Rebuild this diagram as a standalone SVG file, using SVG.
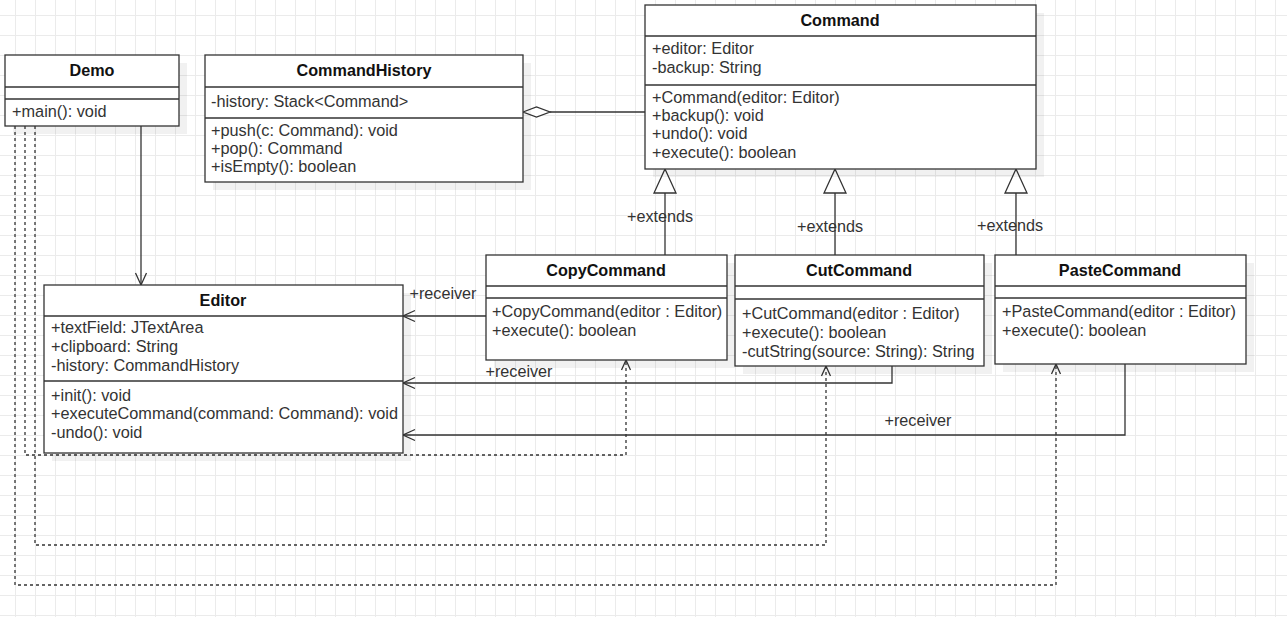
<svg xmlns="http://www.w3.org/2000/svg" width="1287" height="617" viewBox="0 0 1287 617">
<defs>
<pattern id="grid" x="15" y="15" width="20" height="20" patternUnits="userSpaceOnUse">
<path d="M0.5 0 V20 M0 0.5 H20" fill="none" stroke="#ebebeb" stroke-width="1"/>
</pattern>
<style>
.box{fill:#ffffff;stroke:#333333;stroke-width:1.3}
.shadow{fill:#000000;fill-opacity:0.055}
.div{stroke:#333333;stroke-width:1.3}
.title{font-family:"Liberation Sans",Arial,sans-serif;font-size:16.2px;font-weight:bold;fill:#111111;text-anchor:middle}
.mem{font-family:"Liberation Sans",Arial,sans-serif;font-size:16.3px;fill:#333333}
.lbl{font-family:"Liberation Sans",Arial,sans-serif;font-size:16.2px;fill:#333333;text-anchor:middle}
.edge{fill:none;stroke:#333333;stroke-width:1.3}
.dash{fill:none;stroke:#333333;stroke-width:1.3;stroke-dasharray:3 3}
.head{fill:none;stroke:#333333;stroke-width:1.3}
.tri{fill:#ffffff;stroke:#333333;stroke-width:1.3}
</style>
</defs>
<rect width="1287" height="617" fill="#ffffff"/>
<rect width="1287" height="617" fill="url(#grid)"/>

<g id="connectors">
<path class="edge" d="M550 112 H645"/>
<path class="tri" d="M523 112 L536.5 107 L550 112 L536.5 117 Z"/>
<path class="edge" d="M665 255 V193"/>
<path class="tri" d="M665 169 L654 193 L676 193 Z"/>
<path class="edge" d="M835 255 V193"/>
<path class="tri" d="M835 169 L824 193 L846 193 Z"/>
<path class="edge" d="M1016 255 V193"/>
<path class="tri" d="M1016 169 L1005 193 L1027 193 Z"/>
<path class="edge" d="M141 126 V285"/>
<path class="head" d="M135.5 273 L141 285 L146.5 273"/>
<path class="edge" d="M486 316 H403"/>
<path class="head" d="M415 310.5 L403 316 L415 321.5"/>
<path class="edge" d="M892 366 V383 H403"/>
<path class="head" d="M415 377.5 L403 383 L415 388.5"/>
<path class="edge" d="M1125 364 V435 H403"/>
<path class="head" d="M415 429.5 L403 435 L415 440.5"/>
<path class="dash" d="M25 126 V455 H626 V360"/>
<path class="head" d="M621.5 370 L626 360 L630.5 370"/>
<path class="dash" d="M35 126 V545 H826 V366"/>
<path class="head" d="M821.5 376 L826 366 L830.5 376"/>
<path class="dash" d="M15 126 V585 H1056 V364"/>
<path class="head" d="M1051.5 374 L1056 364 L1060.5 374"/>
<text class="lbl" x="660" y="221.5">+extends</text>
<text class="lbl" x="830" y="231.5">+extends</text>
<text class="lbl" x="1010" y="230.5">+extends</text>
<text class="lbl" x="443" y="298.5">+receiver</text>
<text class="lbl" x="519" y="376.5">+receiver</text>
<text class="lbl" x="918" y="425.5">+receiver</text>
</g>

<g id="Demo">
<rect class="shadow" x="13" y="63" width="174" height="71"/>
<rect class="box" x="5" y="55" width="174" height="71"/>
<line class="div" x1="5" y1="87" x2="179" y2="87"/>
<line class="div" x1="5" y1="99" x2="179" y2="99"/>
<text class="title" x="92" y="75.5">Demo</text>
<text class="mem" x="12" y="116.5">+main(): void</text>
</g>

<g id="CommandHistory">
<rect class="shadow" x="213" y="63" width="318" height="127"/>
<rect class="box" x="205" y="55" width="318" height="127"/>
<line class="div" x1="205" y1="87" x2="523" y2="87"/>
<line class="div" x1="205" y1="118" x2="523" y2="118"/>
<text class="title" x="364" y="75.5">CommandHistory</text>
<text class="mem" x="211" y="106.5">-history: Stack&lt;Command&gt;</text>
<text class="mem" x="211" y="135.5">+push(c: Command): void</text>
<text class="mem" x="211" y="153.5">+pop(): Command</text>
<text class="mem" x="211" y="171.5">+isEmpty(): boolean</text>
</g>

<g id="Command">
<rect class="shadow" x="653" y="13" width="391" height="164"/>
<rect class="box" x="645" y="5" width="391" height="164"/>
<line class="div" x1="645" y1="36" x2="1036" y2="36"/>
<line class="div" x1="645" y1="85" x2="1036" y2="85"/>
<text class="title" x="840" y="25.5">Command</text>
<text class="mem" x="652" y="53.5">+editor: Editor</text>
<text class="mem" x="652" y="72.5">-backup: String</text>
<text class="mem" x="652" y="102.5">+Command(editor: Editor)</text>
<text class="mem" x="652" y="120.5">+backup(): void</text>
<text class="mem" x="652" y="138.5">+undo(): void</text>
<text class="mem" x="652" y="157.5">+execute(): boolean</text>
</g>

<g id="CopyCommand">
<rect class="shadow" x="494" y="263" width="241" height="105"/>
<rect class="box" x="486" y="255" width="241" height="105"/>
<line class="div" x1="486" y1="286" x2="727" y2="286"/>
<line class="div" x1="486" y1="298" x2="727" y2="298"/>
<text class="title" x="606" y="275.5">CopyCommand</text>
<text class="mem" x="492" y="316.5">+CopyCommand(editor : Editor)</text>
<text class="mem" x="492" y="335.5">+execute(): boolean</text>
</g>

<g id="CutCommand">
<rect class="shadow" x="743" y="263" width="249" height="111"/>
<rect class="box" x="735" y="255" width="249" height="111"/>
<line class="div" x1="735" y1="286" x2="984" y2="286"/>
<line class="div" x1="735" y1="299" x2="984" y2="299"/>
<text class="title" x="859" y="275.5">CutCommand</text>
<text class="mem" x="742" y="318.5">+CutCommand(editor : Editor)</text>
<text class="mem" x="742" y="337.5">+execute(): boolean</text>
<text class="mem" x="742" y="356.5">-cutString(source: String): String</text>
</g>

<g id="PasteCommand">
<rect class="shadow" x="1003" y="263" width="251" height="109"/>
<rect class="box" x="995" y="255" width="251" height="109"/>
<line class="div" x1="995" y1="286" x2="1246" y2="286"/>
<line class="div" x1="995" y1="298" x2="1246" y2="298"/>
<text class="title" x="1120" y="275.5">PasteCommand</text>
<text class="mem" x="1002" y="316.5">+PasteCommand(editor : Editor)</text>
<text class="mem" x="1002" y="335.5">+execute(): boolean</text>
</g>

<g id="Editor">
<rect class="shadow" x="52" y="293" width="359" height="168"/>
<rect class="box" x="44" y="285" width="359" height="168"/>
<line class="div" x1="44" y1="316" x2="403" y2="316"/>
<line class="div" x1="44" y1="381" x2="403" y2="381"/>
<text class="title" x="223" y="305.5">Editor</text>
<text class="mem" x="51" y="332.5">+textField: JTextArea</text>
<text class="mem" x="51" y="351.5">+clipboard: String</text>
<text class="mem" x="51" y="370.5">-history: CommandHistory</text>
<text class="mem" x="51" y="400.5">+init(): void</text>
<text class="mem" x="51" y="418.5">+executeCommand(command: Command): void</text>
<text class="mem" x="51" y="437.5">-undo(): void</text>
</g>
</svg>
